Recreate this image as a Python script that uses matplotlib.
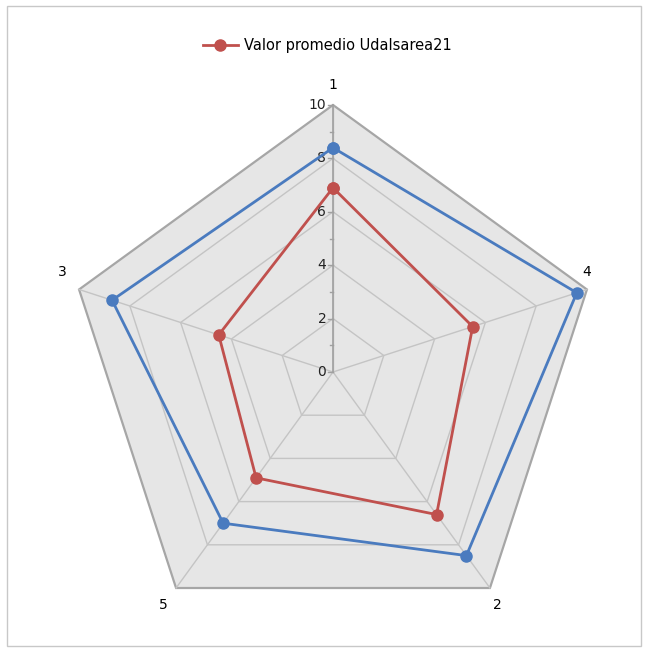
import numpy as np
import matplotlib
matplotlib.use("Agg")
import matplotlib.pyplot as plt
from matplotlib.patches import Polygon, Rectangle

# Data (axes in clockwise order from top)
categories = ["1", "4", "2", "5", "3"]
blue_values = [8.4, 9.6, 8.5, 7.0, 8.7]
red_values = [6.9, 5.5, 6.6, 4.9, 4.5]
red_label = "Valor promedio Udalsarea21"
grid_levels = [2, 4, 6, 8, 10]
tick_labels = ["0", "2", "4", "6", "8", "10"]
rmax = 10

BLUE = "#4a7bbf"
RED = "#c0504d"

n = len(categories)
angles = np.pi / 2 - np.arange(n) * 2 * np.pi / n

def xy(vals):
    v = np.asarray(vals, dtype=float)
    return v * np.cos(angles), v * np.sin(angles)

fig = plt.figure(figsize=(6.48, 6.52), dpi=100)
ax = fig.add_axes([0, 0, 1, 1])
ppu = 26.7
ax.set_xlim(-333 / ppu, (648 - 333) / ppu)
ax.set_ylim(-(652 - 372) / ppu, 372 / ppu)
ax.set_aspect("equal")
ax.axis("off")

# figure border
fig.patches.append(Rectangle((7 / 648, 6 / 652), 634 / 648, 640 / 652,
                             transform=fig.transFigure, fill=False,
                             edgecolor="#c8c8c8", linewidth=1.0))

# background polygon
ox, oy = xy([rmax] * n)
ax.add_patch(Polygon(np.column_stack([ox, oy]), closed=True,
                     facecolor="#e6e6e6", edgecolor="#a6a6a6", linewidth=1.6, zorder=1))
# grid polygons
for g in grid_levels[:-1]:
    gx, gy = xy([g] * n)
    ax.add_patch(Polygon(np.column_stack([gx, gy]), closed=True, fill=False,
                         edgecolor="#c4c4c4", linewidth=1.0, zorder=2))
# spokes
for a in angles:
    ax.plot([0, rmax * np.cos(a)], [0, rmax * np.sin(a)], color="#c4c4c4",
            linewidth=1.0, zorder=2)
# main value axis on axis "1"
ax.plot([0, 0], [0, rmax], color="#a0a0a0", linewidth=1.2, zorder=3)
for v in range(0, rmax + 1):
    L = 0.2 if v % 2 == 0 else 0.12
    ax.plot([-L, 0], [v, v], color="#a0a0a0", linewidth=1.0, zorder=3)
for i, lab in enumerate(tick_labels):
    ax.text(-0.25, i * 2, lab, ha="right", va="center", fontsize=10,
            color="#222222", zorder=4)

# category labels (offsets from outer vertices)
offsets = {"1": (0.0, 0.75), "4": (0.0, 0.66), "2": (0.26, -0.64),
           "5": (-0.49, -0.64), "3": (-0.64, 0.66)}
for x0, y0, c in zip(ox, oy, categories):
    dx, dy = offsets[c]
    ax.text(x0 + dx, y0 + dy, c, ha="center", va="center", fontsize=10)

# series
bx, by = xy(blue_values)
ax.plot(np.append(bx, bx[0]), np.append(by, by[0]), color=BLUE, linewidth=2.0,
        marker="o", markersize=8, zorder=5)
rx, ry = xy(red_values)
ax.plot(np.append(rx, rx[0]), np.append(ry, ry[0]), color=RED, linewidth=2.0,
        marker="o", markersize=8, zorder=6, label=red_label)

leg = ax.legend(loc="upper center", bbox_to_anchor=(0.505, 0.962), frameon=False,
                fontsize=10.5, handlelength=2.4, handletextpad=0.4)

fig.savefig("out.png", dpi=100, facecolor="white")
